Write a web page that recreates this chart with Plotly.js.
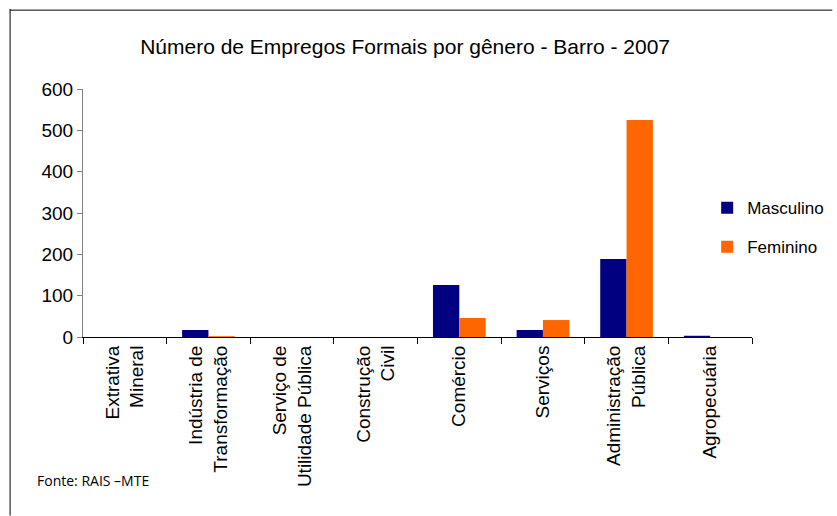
<!DOCTYPE html>
<html>
<head>
<meta charset="utf-8">
<script src="https://cdn.plot.ly/plotly-3.0.1.min.js"></script>
<style>
  html, body { margin: 0; padding: 0; background: #fff; }
  #chart { width: 837px; height: 516px; }
</style>
</head>
<body>
<div id="chart"></div>
<script>
// categories (sectors) and values per gender
const setores = [
    'Extrativa<br>Mineral',
    'Indústria de<br>Transformação',
    'Serviço de<br>Utilidade Pública',
    'Construção<br>Civil',
    'Comércio',
    'Serviços',
    'Administração<br>Pública',
    'Agropecuária'
];
const masculino = [0, 17, 0, 0, 126, 17, 189, 3];
const feminino = [0, 2, 0, 0, 46, 41, 525, 0];

const traces = [
    {
        type: 'bar', name: 'Masculino', x: setores, y: masculino,
        marker: { color: '#000080' }, legendgroup: 'm'
    },
    {
        type: 'bar', name: 'Feminino', x: setores, y: feminino,
        marker: { color: '#FF6600' }, legendgroup: 'f'
    }
];

const layout = {
    width: 837, height: 516,
    margin: { l: 83, r: 85, t: 89, b: 179, autoexpand: false },
    paper_bgcolor: '#fff', plot_bgcolor: '#fff',
    font: { family: 'Liberation Sans, Arial, sans-serif', color: '#000' },
    title: {
        text: 'Número de Empregos Formais por gênero - Barro - 2007',
        font: { size: 21 },
        x: 0.484, xanchor: 'center', y: 0.909, yanchor: 'middle'
    },
    barmode: 'group',
    bargap: 0.37,
    bargroupgap: 0,
    showlegend: true,
    legend: {
        x: 0.933, xanchor: 'left', y: 0.592, yanchor: 'top',
        font: { size: 17 }, tracegroupgap: 14, traceorder: 'grouped',
        itemwidth: 30, bgcolor: 'rgba(0,0,0,0)'
    },
    xaxis: {
        type: 'category',
        showline: true, linecolor: '#000', linewidth: 1,
        ticks: 'outside', ticklen: 6, tickcolor: '#000',
        tickson: 'boundaries',
        tickangle: -90,
        tickfont: { size: 19 },
        showgrid: false, zeroline: false
    },
    yaxis: {
        range: [0, 600], dtick: 100,
        showline: true, linecolor: '#808080', linewidth: 1,
        ticks: 'outside', ticklen: 5, tickcolor: '#808080',
        tickfont: { size: 19 },
        showgrid: false, zeroline: false
    },
    annotations: [
        {
            text: 'Fonte: RAIS –MTE', xref: 'paper', yref: 'paper',
            x: -0.072, y: -0.58, xanchor: 'left', yanchor: 'middle',
            showarrow: false, font: { size: 14, family: 'Open Sans, sans-serif' }
        }
    ],
    shapes: [
        {
            type: 'line', xref: 'paper', yref: 'paper',
            x0: -0.109, x1: -0.109, y0: 1.323, y1: -0.72,
            line: { color: '#000', width: 1 }
        },
        {
            type: 'line', xref: 'paper', yref: 'paper',
            x0: -0.109, x1: 1.12, y0: 1.318, y1: 1.318,
            line: { color: '#000', width: 1 }
        }
    ]
};

Plotly.newPlot('chart', traces, layout, { displayModeBar: false, staticPlot: true });
</script>
</body>
</html>
